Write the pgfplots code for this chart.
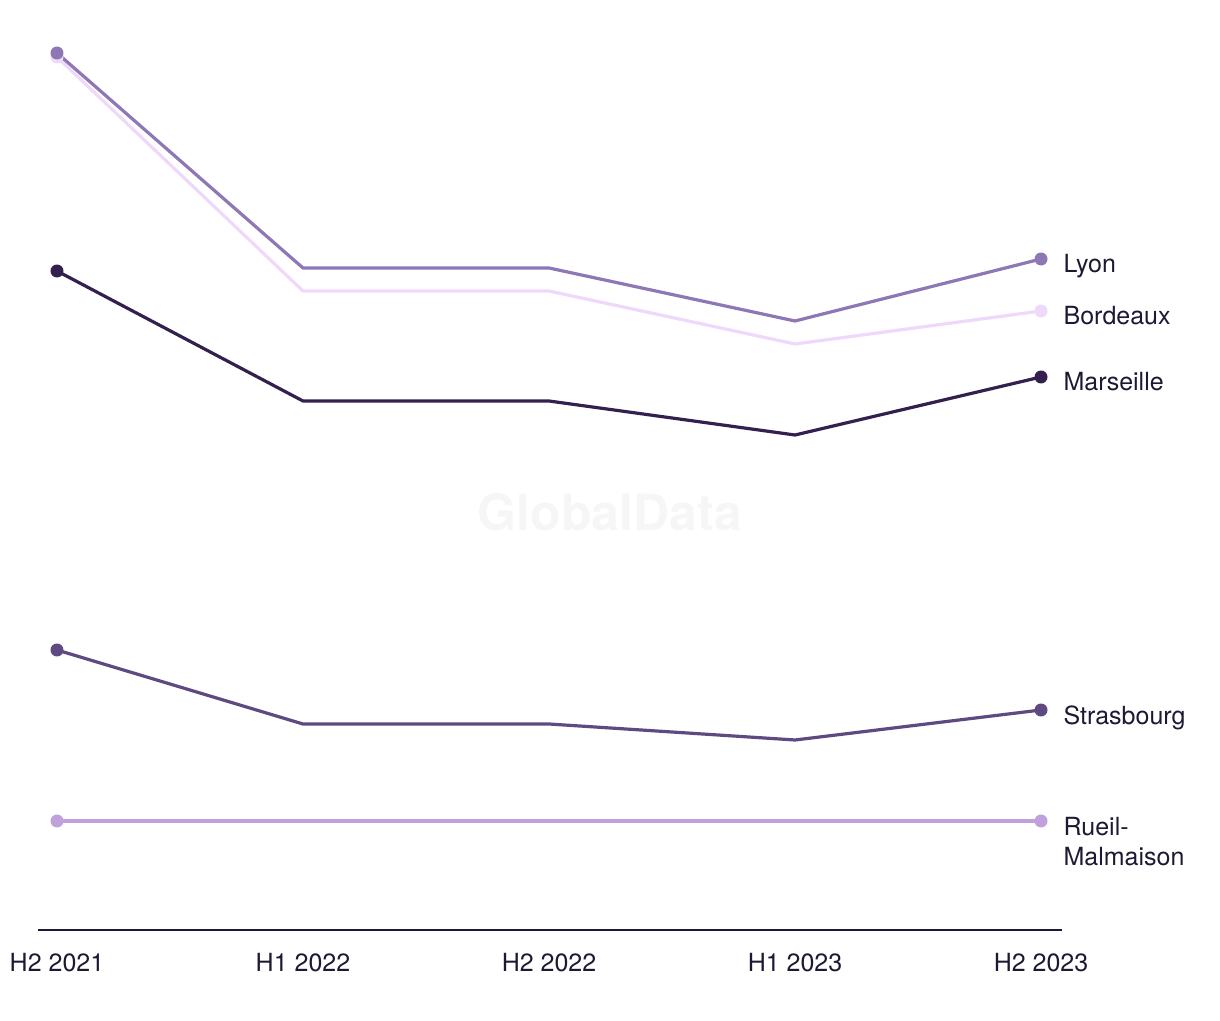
\documentclass[border=0pt]{standalone}
\usepackage{pgfplots}
\pgfplotsset{compat=1.18}
\usepackage{fontspec}
\setmainfont{TeX Gyre Heros}
\definecolor{txt}{HTML}{1C1A33}
\definecolor{cLyon}{HTML}{8E77B5}
\definecolor{cBord}{HTML}{EED9FA}
\definecolor{cMars}{HTML}{33204F}
\definecolor{cStra}{HTML}{5E4A80}
\definecolor{cRueil}{HTML}{BFA2DD}
\definecolor{wm}{HTML}{F6F6F6}
\tikzset{endlab/.style={anchor=base west, inner sep=0pt, xshift=21pt, yshift=-14pt, font=\fontsize{25}{29}\selectfont, text=txt}}
\begin{document}
\begin{tikzpicture}
\path[use as bounding box] (-38pt,-90pt) rectangle (1182pt,930pt);
\begin{axis}[
  scale only axis,
  width=1024pt, height=930pt,
  xmin=-0.0772, xmax=4.0854,
  ymin=0, ymax=930,
  clip=false,
  axis x line=bottom,
  axis y line=none,
  x axis line style={-, draw=txt, line width=1.6pt},
  xtick={0,1,2,3,4},
  xticklabels={H2 2021,H1 2022,H2 2022,H1 2023,H2 2023},
  major tick length=0pt,
  xticklabel style={anchor=base, yshift=-41pt, inner sep=0pt, font=\fontsize{25}{29}\selectfont, text=txt},
  every axis plot/.append style={line width=3.2pt, line join=round, mark=*, mark size=6pt, mark options={line width=1pt}, mark repeat=4},
]
\node[font=\fontsize{50}{60}\selectfont\bfseries, text=wm] at (axis cs:2.248,418) {GlobalData};
\addplot[color=cRueil] coordinates {(0,109) (1,109) (2,109) (3,109) (4,109)}
  node[pos=1, endlab] {Rueil-}
  node[pos=1, endlab, yshift=-30pt] {Malmaison};
\addplot[color=cStra] coordinates {(0,280) (1,206) (2,206) (3,190) (4,220)}
  node[pos=1, endlab] {Strasbourg};
\addplot[color=cMars] coordinates {(0,659) (1,529) (2,529) (3,495) (4,553)}
  node[pos=1, endlab] {Marseille};
\addplot[color=cBord] coordinates {(0,873) (1,639) (2,639) (3,586) (4,619)}
  node[pos=1, endlab] {Bordeaux};
\addplot[color=cLyon] coordinates {(0,877) (1,662) (2,662) (3,609) (4,671)}
  node[pos=1, endlab] {Lyon};
\end{axis}
\end{tikzpicture}
\end{document}
